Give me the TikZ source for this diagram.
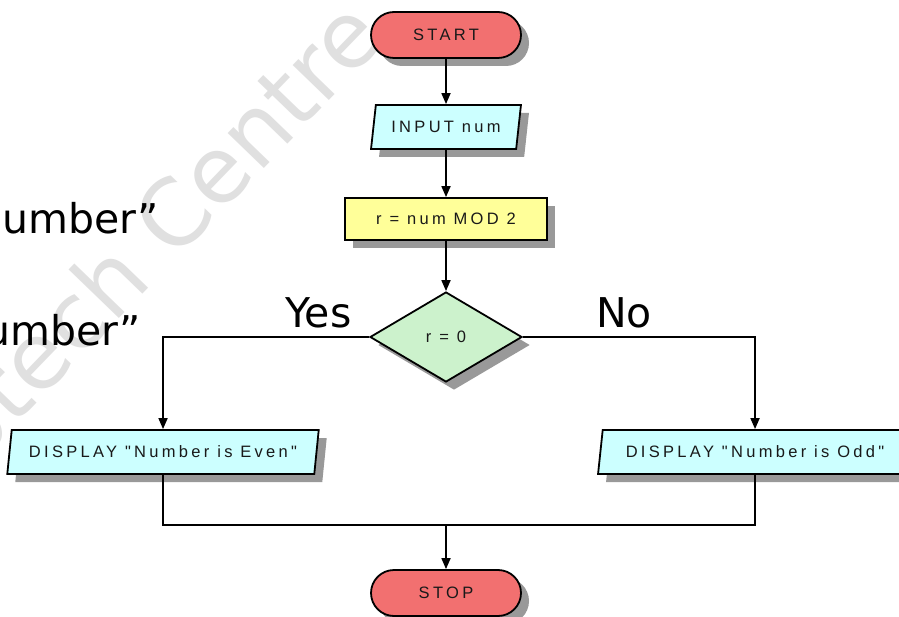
\documentclass[tikz,border=0pt]{standalone}
\usepackage{fontspec}
\setmainfont{Liberation Sans}
\newfontfamily\boxfont[LetterSpace=20]{Liberation Sans}
\newfontfamily\bigfont{DejaVu Sans}
\usetikzlibrary{shapes.geometric,shadows,arrows.meta}
\definecolor{termred}{RGB}{242,112,112}
\definecolor{iocyan}{RGB}{204,255,255}
\definecolor{procyellow}{RGB}{255,255,153}
\definecolor{decgreen}{RGB}{204,242,204}
\begin{document}
\begin{tikzpicture}[x=1pt,y=-1pt,
 base/.style={draw=black, line width=1.8pt, font=\boxfont\fontsize{16.5}{19}\selectfont, text=black!90, inner sep=0pt,
   drop shadow={shadow xshift=8pt, shadow yshift=-8pt, fill=black!40, opacity=1}},
 term/.style={base, rectangle, rounded corners=23pt, fill=termred, minimum width=150pt, minimum height=46pt},
 io/.style={base, trapezium, trapezium left angle=72, trapezium right angle=108, trapezium stretches=true, fill=iocyan, minimum height=44pt},
 proc/.style={base, rectangle, fill=procyellow, minimum width=202pt, minimum height=42pt},
 dec/.style={base, diamond, fill=decgreen, minimum width=152pt, minimum height=90pt},
 flow/.style={line width=1.7pt, draw=black},
 arr/.style={flow, -{Triangle[length=11pt,width=9pt]}},
 biglbl/.style={font=\bigfont\fontsize{41}{48}\selectfont, text=black, inner sep=0pt}
]
\useasboundingbox (0,0) rectangle (899,617);
\fill[white] (0,0) rectangle (899,617);
\node[font=\bigfont\fontsize{92}{92}\selectfont, text=black!12, rotate=46, anchor=base east, inner sep=0pt] (wm) at (388,40) {Aptech Centre};

\node[biglbl, anchor=base west] (u1) at (2,234) {umber”};
\node[biglbl, anchor=base west] (u2) at (-16,345) {umber”};

\node[term] (start) at (446,35) {START};
\node[io, minimum width=150pt] (input) at (446,127) {INPUT num};
\node[proc] (calc) at (446,219) {r = num MOD 2};
\node[dec] (check) at (446,337) {r = 0};
\node[io, minimum width=312pt] (even) at (163,452) {DISPLAY "Number is Even"};
\node[io, minimum width=314pt] (odd) at (755,452) {DISPLAY "Number is Odd"};
\coordinate (join) at (446,525);
\node[term] (stop) at (446,593) {STOP};

\node[biglbl, anchor=base west] (yes) at (285,327) {Yes};
\node[biglbl, anchor=base west] (no) at (596,327) {No};

\draw[arr] (start) -- (input);
\draw[arr] (input) -- (calc);
\draw[arr] (calc) -- (check);
\draw[arr] (check.west) -| (even.north);
\draw[arr] (check.east) -| (odd.north);
\draw[flow] (even.south) |- (join) -| (odd.south);
\draw[arr] (join) -- (stop);
\end{tikzpicture}
\end{document}
